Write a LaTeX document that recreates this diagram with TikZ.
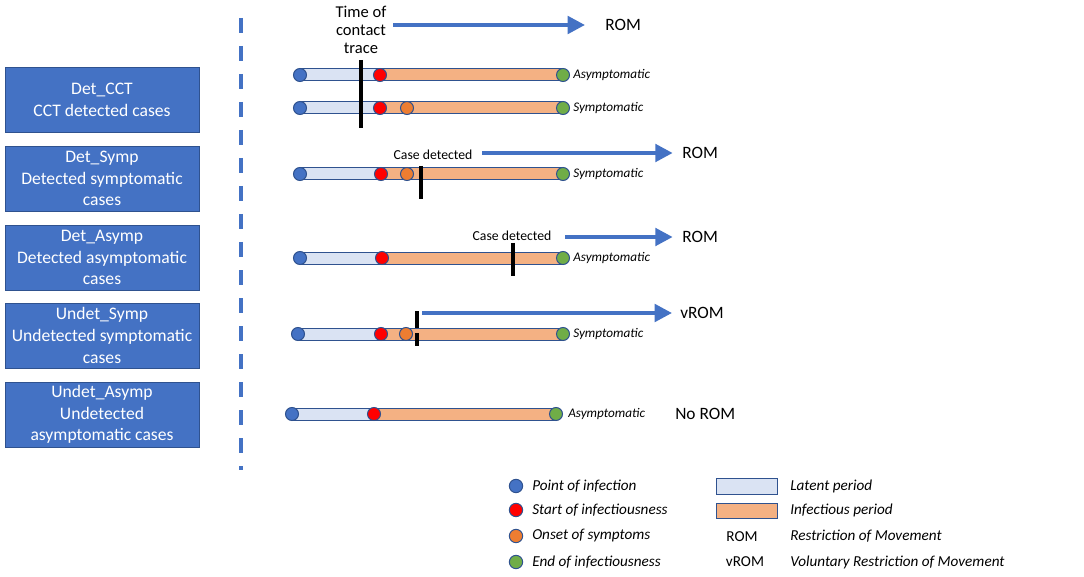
\documentclass[tikz,border=0pt]{standalone}
\usepackage{fontspec}
\setmainfont{Carlito}
\usetikzlibrary{arrows.meta,calc,backgrounds}
\definecolor{boxblue}{HTML}{4472C4}
\definecolor{edgeblue}{HTML}{2F528F}
\definecolor{latentfill}{HTML}{DAE3F3}
\definecolor{infectfill}{HTML}{F4B183}
\definecolor{dotred}{HTML}{FF0000}
\definecolor{dotorange}{HTML}{ED7D31}
\definecolor{dotgreen}{HTML}{70AD47}
\tikzset{
  casebox/.style={fill=boxblue, draw=edgeblue, line width=0.6pt, text=white, align=center,
    minimum width=145.5pt, minimum height=48.75pt, inner sep=1pt,
    font=\fontsize{13.2pt}{16.3pt}\selectfont},
  dot/.style={circle, draw=edgeblue, line width=0.75pt, minimum size=9.75pt, inner sep=0pt},
  ldot/.style={circle, draw=edgeblue, line width=0.75pt, minimum size=10pt, inner sep=0pt},
  pinf/.style={dot, fill=boxblue},
  sinf/.style={dot, fill=dotred},
  osym/.style={dot, fill=dotorange},
  einf/.style={dot, fill=dotgreen},
  latentbar/.style={fill=latentfill, draw=edgeblue, line width=0.75pt},
  infectbar/.style={fill=infectfill, draw=edgeblue, line width=0.75pt},
  kind/.style={anchor=west, inner sep=0pt, font=\fontsize{9.9pt}{11pt}\selectfont\itshape},
  marker/.style={line width=3pt, black},
  bluearrow/.style={boxblue, line width=3pt, -{Triangle[length=13pt,width=13pt]}},
  romtext/.style={anchor=west, inner sep=0pt, font=\fontsize{13pt}{15pt}\selectfont},
  smalltext/.style={align=center, inner sep=0pt, font=\fontsize{10.3pt}{13.5pt}\selectfont},
  bigtext/.style={align=center, inner sep=0pt, font=\fontsize{12.4pt}{13.5pt}\selectfont},
  legtext/.style={anchor=west, inner sep=0pt, font=\fontsize{11.4pt}{13pt}\selectfont\itshape},
  legplain/.style={inner sep=0pt, font=\fontsize{11.4pt}{13pt}\selectfont},
}
\begin{document}
\begin{tikzpicture}[x=0.75pt,y=-0.75pt]
\useasboundingbox (0,0) rectangle (1084,577);

% case boxes
\node[casebox] (c1) at (102,99.5) {Det\_CCT\\CCT detected cases};
\node[casebox] (c2) at (102,178.5) {Det\_Symp\\Detected symptomatic\\cases};
\node[casebox] (c3) at (102,257.5) {Det\_Asymp\\Detected asymptomatic\\cases};
\node[casebox] (c4) at (102,335.5) {Undet\_Symp\\Undetected symptomatic\\cases};
\node[casebox] (c5) at (102,414.5) {Undet\_Asymp\\Undetected\\asymptomatic cases};

% dashed separator
\coordinate (dtop) at (241,18);
\coordinate (dbot) at (241,470);
\draw[boxblue, line width=3pt, dash pattern=on 11.25pt off 9.75pt] (dtop) -- (dbot);

% row 1
\node[pinf] (p1) at (300,75) {};
\node[sinf] (s1) at (380,75) {};
\node[einf] (e1) at (563,75) {};
\node[kind] (k1) at (573,75) {Asymptomatic};
% row 2
\node[pinf] (p2) at (300,108) {};
\node[sinf] (s2) at (380,108) {};
\node[osym] (o2) at (407,108) {};
\node[einf] (e2) at (563,108) {};
\node[kind] (k2) at (573,108) {Symptomatic};
% row 3
\node[pinf] (p3) at (300,174) {};
\node[sinf] (s3) at (381,174) {};
\node[osym] (o3) at (407,174) {};
\node[einf] (e3) at (563,174) {};
\node[kind] (k3) at (573,174) {Symptomatic};
% row 4
\node[pinf] (p4) at (300,258) {};
\node[sinf] (s4) at (382,258) {};
\node[einf] (e4) at (563,258) {};
\node[kind] (k4) at (573,258) {Asymptomatic};
% row 5
\node[pinf] (p5) at (298,334) {};
\node[sinf] (s5) at (381,334) {};
\node[osym] (o5) at (406,334) {};
\node[einf] (e5) at (563,334) {};
\node[kind] (k5) at (573,334) {Symptomatic};
% row 6
\node[pinf] (p6) at (292,414) {};
\node[sinf] (s6) at (374,414) {};
\node[einf] (e6) at (556,414) {};
\node[kind] (k6) at (568,414) {Asymptomatic};

\begin{pgfonlayer}{background}
\foreach \p/\s/\e in {p1/s1/e1, p2/s2/e2, p3/s3/e3, p4/s4/e4, p5/s5/e5, p6/s6/e6}{
  \draw[latentbar] ($(\p)+(0,-6)$) rectangle ($(\s)+(0,6)$);
  \draw[infectbar] ($(\s)+(0,-6)$) rectangle ($(\e)+(0,6)$);
}
\end{pgfonlayer}

% markers
\coordinate (m1t) at (361,60);   \coordinate (m1b) at (361,128);
\draw[marker] (m1t) -- (m1b);
\coordinate (m3t) at (421,166);  \coordinate (m3b) at (421,199);
\draw[marker] (m3t) -- (m3b);
\coordinate (m4t) at (513,243);  \coordinate (m4b) at (513,276);
\draw[marker] (m4t) -- (m4b);
\coordinate (m5t) at (417,311);  \coordinate (m5m) at (417,328);
\coordinate (m5n) at (417,333);  \coordinate (m5b) at (417,346);
\draw[marker] (m5t) -- (m5m);
\draw[marker] (m5n) -- (m5b);

% annotations
\node[bigtext] (t1) at (361,30) {Time of\\contact\\trace};
\node[smalltext] (t3) at (433,155) {Case detected};
\node[smalltext] (t4) at (512,236) {Case detected};

% ROM labels and arrows
\node[romtext] (r1) at (605,25) {ROM};
\node[romtext] (r3) at (682,153) {ROM};
\node[romtext] (r4) at (682,237) {ROM};
\node[romtext] (r5) at (680,313) {vROM};
\node[romtext] (r6) at (675,414) {No ROM};
\coordinate (a1) at (393,25);
\coordinate (a3) at (482,153);
\coordinate (a4) at (565,237);
\coordinate (a5) at (422,313);
\draw[bluearrow] (a1) -- ([xshift=-15pt]r1.west);
\draw[bluearrow] (a3) -- ([xshift=-7pt]r3.west);
\draw[bluearrow] (a4) -- ([xshift=-7pt]r4.west);
\draw[bluearrow] (a5) -- ([xshift=-6pt]r5.west);

% legend
\node[ldot, fill=boxblue] (l1) at (516,486) {};
\node[ldot, fill=dotred] (l2) at (516,510) {};
\node[ldot, fill=dotorange] (l3) at (516,536) {};
\node[ldot, fill=dotgreen] (l4) at (516,562) {};
\node[legtext] (lt1) at (532,486) {Point of infection};
\node[legtext] (lt2) at (532,510) {Start of infectiousness};
\node[legtext] (lt3) at (532,536) {Onset of symptoms};
\node[legtext] (lt4) at (532,562) {End of infectiousness};
\draw[latentbar] (716,478) rectangle (777,494);
\draw[infectbar] (716,503) rectangle (777,518);
\node[legplain] (lr1) at (742,537) {ROM};
\node[legplain] (lr2) at (745,562) {vROM};
\node[legtext] (lt5) at (790,486) {Latent period};
\node[legtext] (lt6) at (790,510) {Infectious period};
\node[legtext] (lt7) at (790,536) {Restriction of Movement};
\node[legtext] (lt8) at (790,562) {Voluntary Restriction of Movement};
\end{tikzpicture}
\end{document}
